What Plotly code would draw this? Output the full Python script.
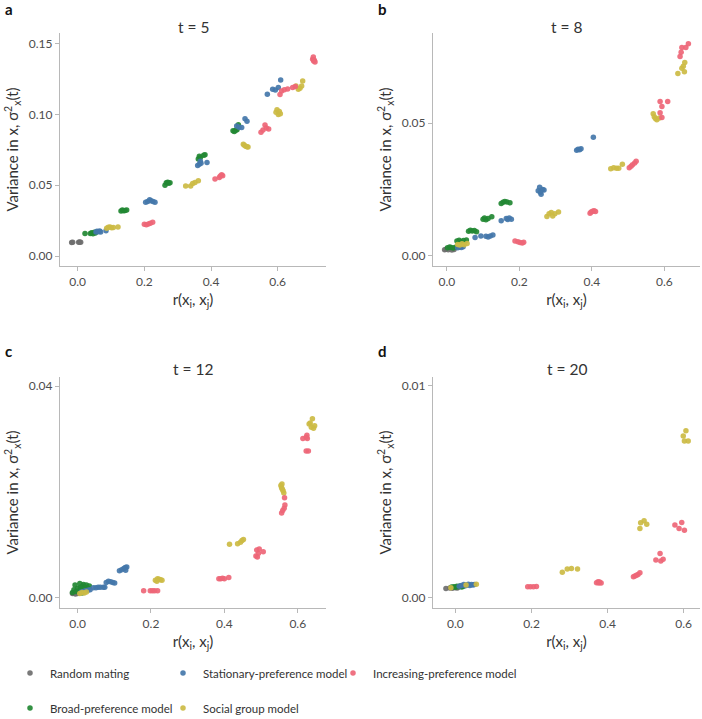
import plotly.graph_objects as go

# ---------------- data ----------------
series_names = ["Random mating", "Broad-preference model", "Stationary-preference model",
                "Social group model", "Increasing-preference model"]
series_colors = ["#6e6e6e", "#228833", "#4477AA", "#CCBB44", "#EE6677"]
panel_titles = ["t = 5", "t = 8", "t = 12", "t = 20"]
panel_letters = ["a", "b", "c", "d"]
x_ticks = [0.0, 0.2, 0.4, 0.6]
y_ticks_a = [0.0, 0.05, 0.10, 0.15]
y_ticks_b = [0.0, 0.05]
y_ticks_c = [0.0, 0.04]
y_ticks_d = [0.0, 0.01]

# ---- panel a (t = 5)
a_random_x = [-0.018, -0.015, 0.003, 0.006, 0.009]
a_random_y = [0.0096, 0.0098, 0.0097, 0.0099, 0.0097]
a_broad_x = [0.022, 0.038, 0.042, 0.046, 0.050, 0.053,
             0.130, 0.134, 0.138, 0.142, 0.147,
             0.262, 0.266, 0.270, 0.273, 0.277,
             0.362, 0.365, 0.368, 0.378, 0.382,
             0.466, 0.470, 0.474, 0.478, 0.482]
a_broad_y = [0.0160, 0.0160, 0.0165, 0.0158, 0.0168, 0.0163,
             0.0318, 0.0325, 0.0320, 0.0322, 0.0325,
             0.0500, 0.0518, 0.0522, 0.0515, 0.0518,
             0.0685, 0.0705, 0.0695, 0.0712, 0.0715,
             0.0885, 0.0880, 0.0888, 0.0892, 0.0928]
a_stat_x = [0.055, 0.058, 0.062, 0.066, 0.069, 0.085,
            0.204, 0.210, 0.216, 0.220, 0.226, 0.232,
            0.360, 0.365, 0.370, 0.368, 0.388,
            0.477, 0.484, 0.492, 0.502, 0.508,
            0.569, 0.585, 0.593, 0.602, 0.609]
a_stat_y = [0.0170, 0.0175, 0.0172, 0.0177, 0.0170, 0.0178,
            0.0380, 0.0385, 0.0398, 0.0390, 0.0385, 0.0380,
            0.0640, 0.0648, 0.0655, 0.0670, 0.0660,
            0.0918, 0.0910, 0.0907, 0.0970, 0.0952,
            0.1142, 0.1177, 0.1173, 0.1190, 0.1243]
a_social_x = [0.087, 0.092, 0.097, 0.102, 0.107, 0.121,
              0.324, 0.339, 0.345, 0.352, 0.362,
              0.497, 0.500, 0.504, 0.508, 0.511,
              0.595, 0.598, 0.602, 0.605, 0.608,
              0.655, 0.662, 0.667, 0.672, 0.675]
a_social_y = [0.0197, 0.0203, 0.0205, 0.0200, 0.0202, 0.0206,
              0.0494, 0.0494, 0.0513, 0.0520, 0.0532,
              0.0790, 0.0782, 0.0776, 0.0772, 0.0770,
              0.1015, 0.1034, 0.1000, 0.1020, 0.1005,
              0.1200, 0.1177, 0.1185, 0.1200, 0.1236]
a_incr_x = [0.200, 0.206, 0.212, 0.218, 0.225,
            0.412, 0.425, 0.428, 0.432, 0.435,
            0.550, 0.556, 0.562, 0.566, 0.573,
            0.607, 0.612, 0.620, 0.630, 0.645, 0.653,
            0.705, 0.707, 0.708, 0.710, 0.712]
a_incr_y = [0.0225, 0.0222, 0.0227, 0.0232, 0.0238,
            0.0544, 0.0555, 0.0565, 0.0575, 0.0568,
            0.0875, 0.0890, 0.0925, 0.0905, 0.0898,
            0.1140, 0.1165, 0.1175, 0.1180, 0.1190, 0.1198,
            0.1390, 0.1405, 0.1378, 0.1382, 0.1370]

# ---- panel b (t = 8)
b_random_x = [-0.006, -0.002, 0.004, 0.014, 0.020]
b_random_y = [0.0022, 0.0024, 0.0022, 0.0021, 0.0023]
b_broad_x = [0.002, 0.008, 0.012, 0.018, 0.024,
             0.028, 0.034, 0.040, 0.046, 0.054,
             0.060, 0.065, 0.070, 0.076, 0.082,
             0.100, 0.104, 0.108, 0.114, 0.124,
             0.150, 0.155, 0.160, 0.166, 0.174]
b_broad_y = [0.0030, 0.0033, 0.0031, 0.0029, 0.0032,
             0.0055, 0.0058, 0.0053, 0.0057, 0.0059,
             0.0092, 0.0096, 0.0093, 0.0095, 0.0090,
             0.0138, 0.0142, 0.0136, 0.0140, 0.0147,
             0.0197, 0.0202, 0.0205, 0.0203, 0.0200]
b_stat_x = [0.030, 0.035, 0.040, 0.045,
            0.078, 0.094, 0.108, 0.114, 0.120, 0.127,
            0.150, 0.164, 0.168, 0.172, 0.178,
            0.252, 0.256, 0.260, 0.264, 0.258, 0.268,
            0.358, 0.362, 0.366, 0.370,
            0.404]
b_stat_y = [0.0030, 0.0033, 0.0031, 0.0034,
            0.0069, 0.0074, 0.0073, 0.0071, 0.0074, 0.0078,
            0.0132, 0.0140, 0.0137, 0.0142, 0.0138,
            0.0245, 0.0258, 0.0232, 0.0250, 0.0240, 0.0248,
            0.0398, 0.0402, 0.0400, 0.0404,
            0.0447]
b_social_x = [0.030, 0.036, 0.042, 0.048, 0.056,
              0.276, 0.282, 0.288, 0.292, 0.298, 0.308,
              0.452, 0.460, 0.468, 0.474, 0.484,
              0.569, 0.572, 0.575, 0.579, 0.586,
              0.637, 0.648, 0.652, 0.655, 0.656]
b_social_y = [0.0042, 0.0040, 0.0045, 0.0041, 0.0046,
              0.0148, 0.0158, 0.0163, 0.0150, 0.0158, 0.0165,
              0.0328, 0.0332, 0.0330, 0.0330, 0.0345,
              0.0536, 0.0525, 0.0518, 0.0513, 0.0520,
              0.0688, 0.0708, 0.0715, 0.0695, 0.0730]
b_incr_x = [0.188, 0.196, 0.202, 0.208, 0.212,
            0.395, 0.398, 0.402, 0.406, 0.410,
            0.503, 0.508, 0.512, 0.518, 0.522,
            0.588, 0.609, 0.593, 0.588, 0.593,
            0.648, 0.659, 0.666, 0.646, 0.643]
b_incr_y = [0.0055, 0.0053, 0.0050, 0.0048, 0.0051,
            0.0160, 0.0165, 0.0168, 0.0170, 0.0167,
            0.0332, 0.0338, 0.0343, 0.0350, 0.0357,
            0.0582, 0.0582, 0.0563, 0.0540, 0.0522,
            0.0786, 0.0786, 0.0800, 0.0768, 0.0752]

# ---- panel c (t = 12)
c_random_x = [-0.014, -0.010, -0.006, 0.000, 0.004]
c_random_y = [0.0008, 0.0009, 0.0007, 0.0008, 0.0009]
c_broad_x = [-0.014, -0.010, -0.007, -0.004, 0.000, 0.004, 0.008, 0.010,
             0.014, 0.016, 0.020, 0.024, 0.028, 0.032, 0.012, 0.006]
c_broad_y = [0.0010, 0.0015, 0.0024, 0.0012, 0.0018, 0.0013, 0.0020, 0.0015,
             0.0022, 0.0025, 0.0020, 0.0024, 0.0018, 0.0022, 0.0009, 0.0027]
c_stat_x = [0.010, 0.016, 0.022, 0.028, 0.034,
            0.043, 0.050, 0.056, 0.062, 0.070, 0.074,
            0.078, 0.084, 0.090, 0.096, 0.101,
            0.114, 0.120, 0.126, 0.130, 0.134, 0.131]
c_stat_y = [0.0011, 0.0012, 0.0013, 0.0014, 0.0015,
            0.0019, 0.0019, 0.0020, 0.0020, 0.0020, 0.0020,
            0.0029, 0.0031, 0.0030, 0.0029, 0.0028,
            0.0051, 0.0053, 0.0055, 0.0057, 0.0058, 0.0052]
c_social_x = [0.006, 0.012, 0.018, 0.024,
              0.212, 0.218, 0.222, 0.226, 0.230, 0.216,
              0.414, 0.436, 0.444, 0.448, 0.452,
              0.554, 0.556, 0.558, 0.560, 0.562, 0.557,
              0.634, 0.640, 0.637, 0.643, 0.646, 0.631]
c_social_y = [0.0008, 0.0010, 0.0009, 0.0011,
              0.0033, 0.0036, 0.0035, 0.0034, 0.0033, 0.0031,
              0.0101, 0.0102, 0.0105, 0.0108, 0.0110,
              0.0212, 0.0208, 0.0205, 0.0202, 0.0198, 0.0215,
              0.0330, 0.0338, 0.0322, 0.0320, 0.0325, 0.0328]
c_incr_x = [0.180, 0.198, 0.204, 0.210, 0.218,
            0.385, 0.390, 0.395, 0.400, 0.412,
            0.486, 0.493, 0.488, 0.495, 0.506, 0.490,
            0.556, 0.563, 0.565, 0.564, 0.559,
            0.614, 0.623, 0.625, 0.626, 0.623, 0.629]
c_incr_y = [0.0013, 0.0013, 0.0013, 0.0013, 0.0013,
            0.0036, 0.0036, 0.0037, 0.0036, 0.0038,
            0.0079, 0.0084, 0.0090, 0.0092, 0.0087, 0.0077,
            0.0160, 0.0169, 0.0175, 0.0189, 0.0165,
            0.0301, 0.0303, 0.0307, 0.0301, 0.0277, 0.0277]

# ---- panel d (t = 20)
d_random_x = [-0.025, -0.015, -0.008, 0.000, 0.005]
d_random_y = [0.00044, 0.00046, 0.00045, 0.00047, 0.00046]
d_broad_x = [-0.010, -0.004, 0.000, 0.004, 0.008, 0.012, 0.016, 0.020]
d_broad_y = [0.00050, 0.00052, 0.00049, 0.00054, 0.00052, 0.00055, 0.00051, 0.00053]
d_stat_x = [0.010, 0.016, 0.022, 0.026, 0.030, 0.034, 0.038, 0.042, 0.046, 0.050]
d_stat_y = [0.00054, 0.00058, 0.00062, 0.00056, 0.00060, 0.00064, 0.00058, 0.00062, 0.00060, 0.00062]
d_social_x = [-0.012, 0.028, 0.055,
              0.281, 0.294, 0.305, 0.321,
              0.485, 0.487, 0.496, 0.503,
              0.606, 0.599, 0.602, 0.612]
d_social_y = [0.00047, 0.00060, 0.00063,
              0.00120, 0.00135, 0.00138, 0.00135,
              0.00327, 0.00354, 0.00363, 0.00347,
              0.00788, 0.00763, 0.00740, 0.00740]
d_incr_x = [0.190, 0.197, 0.205, 0.213,
            0.371, 0.375, 0.379, 0.383, 0.377,
            0.468, 0.472, 0.476, 0.480, 0.485,
            0.527, 0.538, 0.540, 0.546,
            0.577, 0.588, 0.595, 0.602]
d_incr_y = [0.00052, 0.00052, 0.00052, 0.00053,
            0.00071, 0.00075, 0.00074, 0.00070, 0.00069,
            0.00099, 0.00102, 0.00106, 0.00110, 0.00118,
            0.00178, 0.00209, 0.00173, 0.00181,
            0.00343, 0.00327, 0.00355, 0.00319]

panels = [
    [(a_random_x, a_random_y), (a_broad_x, a_broad_y), (a_stat_x, a_stat_y), (a_social_x, a_social_y), (a_incr_x, a_incr_y)],
    [(b_random_x, b_random_y), (b_broad_x, b_broad_y), (b_stat_x, b_stat_y), (b_social_x, b_social_y), (b_incr_x, b_incr_y)],
    [(c_random_x, c_random_y), (c_broad_x, c_broad_y), (c_stat_x, c_stat_y), (c_social_x, c_social_y), (c_incr_x, c_incr_y)],
    [(d_random_x, d_random_y), (d_broad_x, d_broad_y), (d_stat_x, d_stat_y), (d_social_x, d_social_y), (d_incr_x, d_incr_y)],
]

# ---------------- layout geometry (pixels) ----------------
W, H = 702, 719
FONT = "Lato, 'Open Sans', sans-serif"
TXT = "#333333"
AX = "#b8b8b8"

def px(x):
    return x / W

def py(y):
    return 1 - y / H

x_dom = [(60, 326), (433, 700), (60, 326), (433, 700)]
y_dom = [(33, 266), (33, 266), (377, 608), (377, 608)]
x_ranges = [(-0.053, 0.745), (-0.038, 0.698), (-0.048, 0.677), (-0.059, 0.643)]
y_ranges = [(-0.007, 0.1575), (-0.0039, 0.0841), (-0.00194, 0.0417), (-0.000486, 0.01042)]
y_tickvals = [y_ticks_a, y_ticks_b, y_ticks_c, y_ticks_d]

fig = go.Figure()

for p in range(4):
    xa = "x" if p == 0 else f"x{p+1}"
    ya = "y" if p == 0 else f"y{p+1}"
    for s in range(5):
        xs, ys = panels[p][s]
        leg = "legend" if s == 0 else f"legend{s+1}"
        fig.add_trace(go.Scatter(
            x=xs, y=ys, mode="markers", name=series_names[s],
            marker=dict(color=series_colors[s], size=5.5, opacity=0.92, line=dict(width=0)),
            xaxis=xa, yaxis=ya, showlegend=(p == 0), legend=leg,
        ))

axis_common = dict(
    showline=True, linecolor=AX, linewidth=1.3, ticks="outside", ticklen=4,
    tickcolor=AX, tickwidth=1.2, showgrid=False, zeroline=False,
    tickfont=dict(family=FONT, size=12, color="#4d4d4d"),
)

for p in range(4):
    k = "" if p == 0 else str(p + 1)
    fig.layout["xaxis" + k] = dict(
        axis_common, domain=[px(x_dom[p][0]), px(x_dom[p][1])],
        range=list(x_ranges[p]), tickvals=x_ticks, tickformat=".1f",
        anchor="y" + k,
        title=dict(text="r(x<sub>i</sub>, x<sub>j</sub>)", standoff=6,
                   font=dict(family=FONT, size=15, color=TXT)),
    )
    fig.layout["yaxis" + k] = dict(
        axis_common, domain=[py(y_dom[p][1]), py(y_dom[p][0])],
        range=list(y_ranges[p]), tickvals=y_tickvals[p], tickformat=".2f",
        anchor="x" + k,
        title=dict(text="Variance in x, σ<sup>2</sup><sub>x</sub>(t)", standoff=6,
                   font=dict(family=FONT, size=15, color=TXT)),
    )

annotations = []
for p in range(4):
    cx = (x_dom[p][0] + x_dom[p][1]) / 2
    ty = 27 if p < 2 else 369
    annotations.append(dict(text=panel_titles[p], x=px(cx), y=py(ty), xref="paper", yref="paper",
                            showarrow=False, xanchor="center", yanchor="middle",
                            font=dict(family=FONT, size=15.5, color=TXT)))
letter_pos = [(3, 9), (376, 9), (3, 351), (376, 351)]
for p in range(4):
    annotations.append(dict(text="<b>" + panel_letters[p] + "</b>", x=px(letter_pos[p][0]), y=py(letter_pos[p][1]),
                            xref="paper", yref="paper", showarrow=False, xanchor="left", yanchor="middle",
                            font=dict(family=FONT, size=15, color="#111111")))

# legend positions: (marker center x, row center y)
leg_pos = [(30, 673), (30, 708), (183, 673), (183, 708), (353, 673)]
legs = {}
for s in range(5):
    key = "legend" if s == 0 else f"legend{s+1}"
    legs[key] = dict(x=px(leg_pos[s][0] - 20), y=py(leg_pos[s][1]), xanchor="left", yanchor="middle",
                     bgcolor="rgba(0,0,0,0)", borderwidth=0,
                     font=dict(family=FONT, size=11.5, color=TXT))

fig.update_layout(
    width=W, height=H, margin=dict(l=0, r=0, t=0, b=0, autoexpand=False),
    paper_bgcolor="white", plot_bgcolor="white",
    annotations=annotations,
    font=dict(family=FONT, color=TXT),
    **legs,
)

fig.write_html("out.html", config={"displayModeBar": False},
               post_script="document.body.style.margin='0px';document.body.style.overflow='hidden';")
